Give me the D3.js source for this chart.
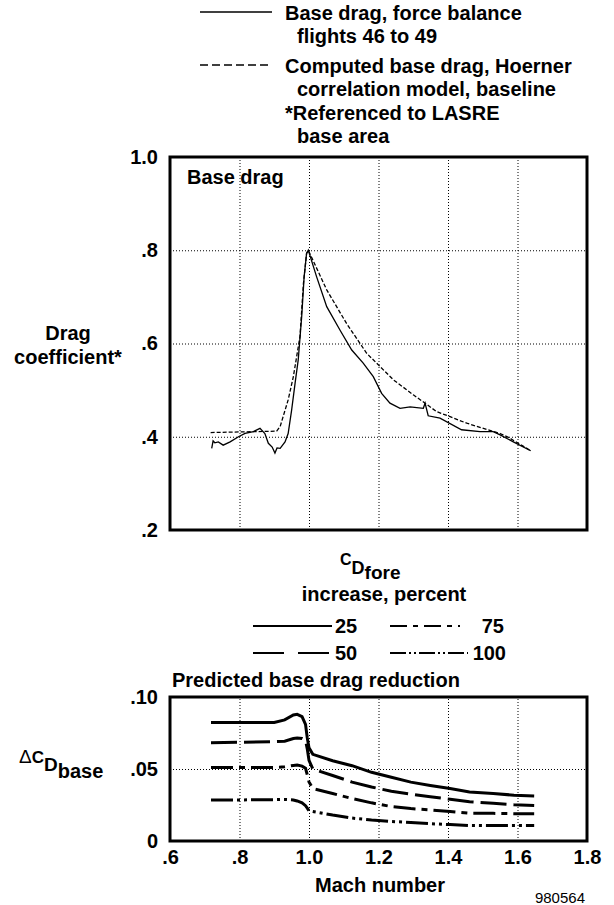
<!DOCTYPE html>
<html>
<head>
<meta charset="utf-8">
<script src="https://cdn.jsdelivr.net/npm/d3@7"></script>
<style>
  body { margin: 0; background: #fff; }
  svg { display: block; font-family: "Liberation Sans", Arial, Helvetica, sans-serif; }
  .lbl { font-weight: bold; font-size: 20px; fill: #000; }
  .grid line { stroke: #000; stroke-width: 1; stroke-dasharray: 1,2; }
  .grid path { display: none; }
  .ticks path { display: none; }
  .ticks text { font-weight: bold; font-size: 20px; fill: #000; }
</style>
</head>
<body>
<script>
  // upper panel: base drag vs Mach
  const forceBalanceMach = [0.720, 0.724, 0.729, 0.739, 0.753, 0.773, 0.797, 0.816, 0.840, 0.859, 0.873, 0.883, 0.894, 0.902, 0.908, 0.917, 0.931, 0.940, 0.950, 0.960, 0.969, 0.979, 0.986, 0.993, 0.998, 1.022, 1.051, 1.089, 1.123, 1.156, 1.185, 1.209, 1.233, 1.262, 1.291, 1.329, 1.334, 1.343, 1.377, 1.439, 1.492, 1.530, 1.550, 1.588, 1.638];
  const forceBalanceCd = [0.375, 0.391, 0.387, 0.389, 0.382, 0.389, 0.400, 0.407, 0.411, 0.418, 0.407, 0.386, 0.378, 0.365, 0.376, 0.375, 0.389, 0.407, 0.457, 0.515, 0.565, 0.658, 0.743, 0.793, 0.800, 0.743, 0.679, 0.629, 0.586, 0.558, 0.529, 0.493, 0.472, 0.461, 0.464, 0.461, 0.472, 0.445, 0.440, 0.415, 0.411, 0.411, 0.404, 0.389, 0.370];
  const hoernerMach = [0.717, 0.907, 0.917, 0.940, 0.955, 0.974, 0.984, 0.993, 0.998, 1.051, 1.108, 1.166, 1.243, 1.300, 1.334, 1.367, 1.406, 1.454, 1.502, 1.550, 1.578, 1.638];
  const hoernerCd = [0.409, 0.412, 0.422, 0.479, 0.529, 0.615, 0.729, 0.793, 0.800, 0.715, 0.643, 0.579, 0.522, 0.490, 0.472, 0.454, 0.443, 0.429, 0.418, 0.407, 0.397, 0.370];

  // lower panel: predicted base drag reduction
  const reductionMach = [0.718, 0.90, 0.93, 0.955, 0.966, 0.98, 0.99, 0.995, 1.0, 1.011, 1.068, 1.124, 1.18, 1.237, 1.293, 1.349, 1.406, 1.462, 1.53, 1.59, 1.648];
  const increase25 = [0.0823, 0.0823, 0.0841, 0.0875, 0.0880, 0.0864, 0.0810, 0.0716, 0.0648, 0.0602, 0.0557, 0.0523, 0.0477, 0.0443, 0.0409, 0.0386, 0.0364, 0.0341, 0.0330, 0.0318, 0.0313];
  const increase50 = [0.0682, 0.0690, 0.0693, 0.0712, 0.0716, 0.0712, 0.0700, 0.0640, 0.0560, 0.0500, 0.0455, 0.0409, 0.0375, 0.0345, 0.0325, 0.0307, 0.0290, 0.0273, 0.0262, 0.0252, 0.0247];
  const increase75 = [0.0511, 0.0511, 0.0515, 0.0525, 0.0527, 0.0520, 0.0505, 0.0460, 0.0410, 0.0364, 0.0330, 0.0295, 0.0265, 0.0239, 0.0225, 0.0216, 0.0205, 0.0193, 0.0192, 0.0190, 0.0189];
  const increase100 = [0.0284, 0.0287, 0.0289, 0.0285, 0.0278, 0.0265, 0.0245, 0.0228, 0.0210, 0.0205, 0.0180, 0.0159, 0.0146, 0.0136, 0.0128, 0.0120, 0.0114, 0.0108, 0.0107, 0.0107, 0.0107];
  const increaseNames = ['25', '50', '75', '100'];

  // ticks
  const machTicks = [0.6, 0.8, 1.0, 1.2, 1.4, 1.6, 1.8];
  const machLabels = ['.6', '.8', '1.0', '1.2', '1.4', '1.6', '1.8'];
  const cdTicks = [0.2, 0.4, 0.6, 0.8, 1.0];
  const cdLabels = ['.2', '.4', '.6', '.8', '1.0'];
  const dcdTicks = [0, 0.05, 0.10];
  const dcdLabels = ['0', '.05', '.10'];

  const width = 614;
  const height = 905;

  const svg = d3.select('body')
          .append('svg')
          .attr('width', width)
          .attr('height', height);

  const x = d3.scaleLinear().domain([0.6, 1.8]).range([170, 587]);
  const yTop = d3.scaleLinear().domain([0.2, 1.0]).range([530, 157]);
  const yBot = d3.scaleLinear().domain([0, 0.10]).range([841, 697]);

  // ---- top legend ----
  const leg = svg.append('g');
  leg.append('line').attr('x1', 200).attr('x2', 272).attr('y1', 12).attr('y2', 12)
          .attr('stroke', '#000').attr('stroke-width', 1.5);
  leg.append('line').attr('x1', 200).attr('x2', 272).attr('y1', 65).attr('y2', 65)
          .attr('stroke', '#000').attr('stroke-width', 1.5).attr('stroke-dasharray', '8,4');
  const legText = [
    ['Base drag, force balance', 285, 20],
    ['flights 46 to 49', 297, 43],
    ['Computed base drag, Hoerner', 285, 73],
    ['correlation model, baseline', 297, 96],
    ['*Referenced to LASRE', 285, 120],
    ['base area', 297, 143]
  ];
  leg.selectAll('text').data(legText).enter().append('text')
          .attr('class', 'lbl')
          .attr('x', d => d[1]).attr('y', d => d[2])
          .text(d => d[0]);

  // ---- upper panel ----
  const up = svg.append('g');
  up.append('g').attr('class', 'grid')
          .attr('transform', 'translate(0,530)')
          .call(d3.axisBottom(x).tickValues(machTicks.slice(1, -1)).tickSize(-373).tickFormat(''));
  up.append('g').attr('class', 'grid')
          .attr('transform', 'translate(170,0)')
          .call(d3.axisLeft(yTop).tickValues([0.4, 0.6, 0.8]).tickSize(-417).tickFormat(''));

  const lineTop = (mx, vals) => d3.line().x((d, i) => x(mx[i])).y(d => yTop(d))(vals);
  up.append('path').attr('d', lineTop(hoernerMach, hoernerCd))
          .attr('fill', 'none').attr('stroke', '#000').attr('stroke-width', 1.3)
          .attr('stroke-dasharray', '4,2');
  up.append('path').attr('d', lineTop(forceBalanceMach, forceBalanceCd))
          .attr('fill', 'none').attr('stroke', '#000').attr('stroke-width', 1.3);

  up.append('rect').attr('x', 170).attr('y', 157).attr('width', 417).attr('height', 373)
          .attr('fill', 'none').attr('stroke', '#000').attr('stroke-width', 3);
  up.append('g').attr('class', 'ticks')
          .attr('transform', 'translate(160,0)')
          .call(d3.axisLeft(yTop).tickValues(cdTicks).tickSize(0).tickPadding(2)
                  .tickFormat((d, i) => cdLabels[i]));
  up.append('text').attr('class', 'lbl').attr('x', 187).attr('y', 184).text('Base drag');
  up.append('text').attr('class', 'lbl').attr('x', 68).attr('y', 340)
          .attr('text-anchor', 'middle').text('Drag');
  up.append('text').attr('class', 'lbl').attr('x', 68).attr('y', 364)
          .attr('text-anchor', 'middle').text('coefficient*');

  // ---- middle title + legend ----
  const cd = svg.append('text').attr('class', 'lbl').attr('x', 340).attr('y', 565);
  cd.append('tspan').attr('font-size', 16).text('C');
  cd.append('tspan').attr('font-size', 18).attr('dy', 9).text('D');
  cd.append('tspan').attr('font-size', 19).attr('dy', 5).text('fore');
  svg.append('text').attr('class', 'lbl').attr('x', 384).attr('y', 601)
          .attr('text-anchor', 'middle').text('increase, percent');

  const legendDashes = [null, '31,14', '17,6,5,6', '16,3,2,3,2,3'];
  const plotDashes = [null, '26,7', '22,6,6,6', '22,4,3,4,3,4'];
  const legItems = [
    { x1: 253, x2: 332, y: 626, tx: 335, anchor: 'start' },
    { x1: 253, x2: 332, y: 653, tx: 335, anchor: 'start' },
    { x1: 390, x2: 460, y: 626, tx: 504, anchor: 'end' },
    { x1: 390, x2: 468, y: 653, tx: 506, anchor: 'end' }
  ];
  legItems.forEach((d, i) => {
    svg.append('line').attr('x1', d.x1).attr('x2', d.x2).attr('y1', d.y).attr('y2', d.y)
            .attr('stroke', '#000').attr('stroke-width', 2)
            .attr('stroke-dasharray', legendDashes[i]);
    svg.append('text').attr('class', 'lbl').attr('x', d.tx).attr('y', d.y + 7)
            .attr('text-anchor', d.anchor).text(increaseNames[i]);
  });

  // ---- lower panel ----
  const lo = svg.append('g');
  lo.append('text').attr('class', 'lbl').attr('x', 172).attr('y', 687).text('Predicted base drag reduction');
  lo.append('g').attr('class', 'grid')
          .attr('transform', 'translate(0,841)')
          .call(d3.axisBottom(x).tickValues(machTicks.slice(1, -1)).tickSize(-144).tickFormat(''));
  lo.append('g').attr('class', 'grid')
          .attr('transform', 'translate(170,0)')
          .call(d3.axisLeft(yBot).tickValues([0.05]).tickSize(-417).tickFormat(''));

  const lineBot = vals => d3.line().x((d, i) => x(reductionMach[i])).y(d => yBot(d))(vals);
  [increase25, increase50, increase75, increase100].forEach((vals, i) => {
    lo.append('path').attr('d', lineBot(vals))
            .attr('fill', 'none').attr('stroke', '#000').attr('stroke-width', 3)
            .attr('stroke-dasharray', plotDashes[i]);
  });

  lo.append('rect').attr('x', 170).attr('y', 697).attr('width', 417).attr('height', 144)
          .attr('fill', 'none').attr('stroke', '#000').attr('stroke-width', 3);
  lo.append('g').attr('class', 'ticks')
          .attr('transform', 'translate(160,0)')
          .call(d3.axisLeft(yBot).tickValues(dcdTicks).tickSize(0).tickPadding(2)
                  .tickFormat((d, i) => dcdLabels[i]));
  lo.append('g').attr('class', 'ticks')
          .attr('transform', 'translate(0,848)')
          .call(d3.axisBottom(x).tickValues(machTicks).tickSize(0).tickPadding(2)
                  .tickFormat((d, i) => machLabels[i]));
  lo.append('text').attr('class', 'lbl').attr('x', 380).attr('y', 892)
          .attr('text-anchor', 'middle').text('Mach number');
  svg.append('text').attr('x', 585).attr('y', 903).attr('text-anchor', 'end')
          .attr('font-size', 15).text('980564');

  const dl = lo.append('text').attr('class', 'lbl').attr('x', 19).attr('y', 763);
  dl.append('tspan').attr('font-weight', 'normal').attr('font-size', 19).text('Δ');
  dl.append('tspan').attr('font-size', 17).text('C');
  dl.append('tspan').attr('font-size', 19).attr('dy', 8).text('D');
  dl.append('tspan').attr('font-size', 20).attr('dy', 7).text('base');
</script>
</body>
</html>
